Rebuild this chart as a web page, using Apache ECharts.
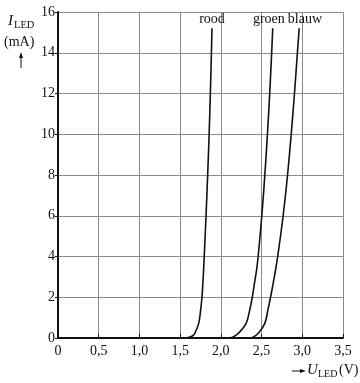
<!DOCTYPE html>
<html>
<head>
<meta charset="utf-8">
<script src="https://cdn.jsdelivr.net/npm/echarts@6/dist/echarts.min.js"></script>
<style>
html,body{margin:0;padding:0;background:#fff;}
#c{width:360px;height:383px;}
</style>
</head>
<body>
<div id="c"></div>
<script>
// Data
const xTicks = [0, 0.5, 1.0, 1.5, 2.0, 2.5, 3.0, 3.5];
const yTicks = [0, 2, 4, 6, 8, 10, 12, 14, 16];
const seriesNames = ['rood', 'groen', 'blauw'];
const roodU = [1.40, 1.55, 1.60, 1.65, 1.68, 1.728, 1.752, 1.768, 1.779, 1.788, 1.796, 1.818, 1.838, 1.856, 1.871, 1.884, 1.891];
const roodI = [0, 0, 0.02, 0.10, 0.23, 0.72, 1.38, 2.0, 2.69, 3.35, 4.0, 6.0, 8.0, 10, 12, 14, 15.2];
const groenU = [2.00, 2.10, 2.15, 2.215, 2.31, 2.355, 2.386, 2.413, 2.439, 2.458, 2.503, 2.54, 2.572, 2.60, 2.624, 2.637];
const groenI = [0, 0, 0.05, 0.23, 0.72, 1.38, 2.0, 2.69, 3.35, 4.0, 6.0, 8.0, 10, 12, 14, 15.2];
const blauwU = [2.25, 2.36, 2.40, 2.46, 2.54, 2.578, 2.61, 2.643, 2.672, 2.698, 2.765, 2.819, 2.864, 2.904, 2.94, 2.962];
const blauwI = [0, 0, 0.05, 0.23, 0.72, 1.38, 2.0, 2.69, 3.35, 4.0, 6.0, 8.0, 10, 12, 14, 15.2];
const labelU = [1.891, 2.59, 3.032];
const labelI = [15.66, 15.66, 15.66];

const FONT = '"Liberation Serif", "Times New Roman", serif';
const chart = echarts.init(document.getElementById('c'), null, {renderer: 'canvas'});

function pairs(u, i) { return u.map((v, k) => [v, i[k]]); }
const allU = [roodU, groenU, blauwU];
const allI = [roodI, groenI, blauwI];

const series = seriesNames.map((name, k) => ({
  name: name,
  type: 'line',
  data: pairs(allU[k], allI[k]),
  showSymbol: false,
  smooth: 0.35,
  lineStyle: {color: '#111', width: 1.6},
  z: 5,
  markPoint: {
    symbol: 'circle',
    symbolSize: 1,
    itemStyle: {color: 'rgba(0,0,0,0)'},
    label: {show: true, position: 'inside', formatter: name, color: '#111', fontFamily: FONT, fontSize: 14},
    data: [{coord: [labelU[k], labelI[k]], value: name}]
  }
}));

const option = {
  animation: false,
  backgroundColor: '#fff',
  grid: {left: 58, right: 17, top: 12, bottom: 45},
  xAxis: {
    type: 'value', min: xTicks[0], max: xTicks[xTicks.length - 1], interval: 0.5,
    axisLine: {show: true, onZero: false, lineStyle: {color: '#111', width: 2}},
    axisTick: {show: true, inside: true, length: 4, lineStyle: {color: '#111', width: 1}},
    axisLabel: {color: '#111', fontFamily: FONT, fontSize: 14, margin: 6,
      formatter: v => v === 0 ? '0' : v.toFixed(1).replace('.', ',')},
    splitLine: {show: true, lineStyle: {color: '#8a8a8a', width: 1}}
  },
  yAxis: {
    type: 'value', min: yTicks[0], max: yTicks[yTicks.length - 1], interval: 2,
    axisLine: {show: true, onZero: false, lineStyle: {color: '#111', width: 2}},
    axisTick: {show: true, length: 3, lineStyle: {color: '#111', width: 1}},
    axisLabel: {color: '#111', fontFamily: FONT, fontSize: 14, margin: 3},
    splitLine: {show: true, lineStyle: {color: '#8a8a8a', width: 1}}
  },
  series: series,
  graphic: [
    {type: 'text', left: 8, top: 14, style: {text: 'I', font: 'italic 15px ' + FONT, fill: '#111'}},
    {type: 'text', left: 14, top: 20, style: {text: 'LED', font: '10.5px ' + FONT, fill: '#111'}},
    {type: 'text', left: 4, top: 35, style: {text: '(mA)', font: '14px ' + FONT, fill: '#111'}},
    {type: 'line', shape: {x1: 21, y1: 56, x2: 21, y2: 68}, style: {stroke: '#111', lineWidth: 1}},
    {type: 'polygon', shape: {points: [[21, 52], [19, 58], [23, 58]]}, style: {fill: '#111'}},
    {type: 'line', shape: {x1: 292, y1: 371, x2: 301, y2: 371}, style: {stroke: '#111', lineWidth: 1}},
    {type: 'polygon', shape: {points: [[306, 371], [300, 369], [300, 373]]}, style: {fill: '#111'}},
    {type: 'text', left: 307, top: 363, style: {text: 'U', font: 'italic 15px ' + FONT, fill: '#111'}},
    {type: 'text', left: 318, top: 369, style: {text: 'LED', font: '10px ' + FONT, fill: '#111'}},
    {type: 'text', left: 339, top: 363, style: {text: '(V)', font: '14px ' + FONT, fill: '#111'}}
  ]
};
chart.setOption(option);
</script>
</body>
</html>
